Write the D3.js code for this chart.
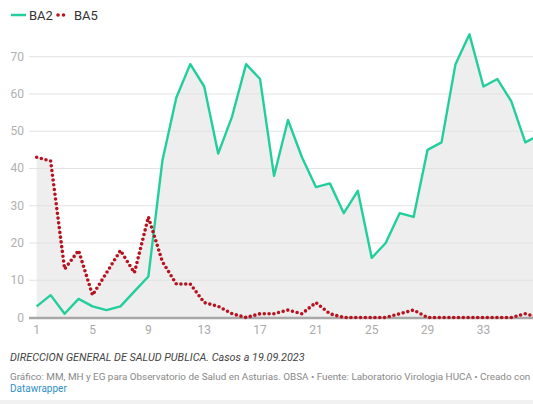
<!DOCTYPE html>
<html>
<head>
<meta charset="utf-8">
<script src="https://cdn.jsdelivr.net/npm/d3@7"></script>
<style>
  body { margin: 0; background: #fff; }
  svg { display: block; font-family: Roboto, "Noto Sans", sans-serif; }
</style>
</head>
<body>
<svg id="canvas" width="533" height="404"></svg>
<script>
// weeks (semana epidemiologica) and cases per variant
const weeks = d3.range(1, 38);
const ba2 = [3, 6, 1, 5, 3, 2, 3, 7, 11, 42, 59, 68, 62, 44, 54, 68, 64, 38, 53, 43,
             35, 36, 28, 34, 16, 20, 28, 27, 45, 47, 68, 76, 62, 64, 58, 47, 49];
const ba5 = [43, 42, 13, 18, 6, 12, 18, 12, 27, 15, 9, 9, 4, 3, 1, 0, 1, 1, 2, 1,
             4, 1, 0, 0, 0, 0, 1, 2, 0, 0, 0, 0, 0, 0, 0, 1, 0];
const yTicks = [0, 10, 20, 30, 40, 50, 60, 70];
const xTicks = [1, 5, 9, 13, 17, 21, 25, 29, 33];
const seriesNames = ['BA2', 'BA5'];

const green = '#22cf9c';
const red = '#b8121e';

const canvas = d3.select('#canvas');
canvas.append('rect').attr('width', 533).attr('height', 404).attr('fill', '#fff');

const xScale = d3.scaleLinear()
    .domain([1, 36])
    .range([36.7, 525.3]);
const yScale = d3.scaleLinear()
    .domain([0, 70])
    .range([317.5, 56.7]);

const ba2Data = weeks.map((w, i) => ({ week: w, value: ba2[i] }));
const ba5Data = weeks.map((w, i) => ({ week: w, value: ba5[i] }));

const area = d3.area()
    .x(d => xScale(d.week))
    .y0(yScale(0))
    .y1(d => yScale(d.value));
const line = d3.line()
    .x(d => xScale(d.week))
    .y(d => yScale(d.value));

// grey areas below both lines
const agroup = canvas.append('g').attr('id', 'agroup');
agroup.selectAll('path')
    .data([ba2Data, ba5Data])
    .enter().append('path')
    .attr('d', area)
    .attr('fill', '#eeeeee');

// grid + y labels
const ggroup = canvas.append('g').attr('id', 'ggroup');
ggroup.selectAll('line')
    .data(yTicks.filter(t => t > 0))
    .enter().append('line')
    .attr('x1', 29)
    .attr('x2', 533)
    .attr('y1', d => yScale(d))
    .attr('y2', d => yScale(d))
    .attr('stroke', '#e2e2e2')
    .attr('stroke-width', 1);

ggroup.selectAll('text')
    .data(yTicks)
    .enter().append('text')
    .attr('x', 24)
    .attr('y', d => yScale(d))
    .attr('text-anchor', 'end')
    .attr('dominant-baseline', 'central')
    .attr('font-size', 12)
    .attr('fill', '#b0b0b0')
    .text(d => d);

// baseline
canvas.append('line')
    .attr('x1', 29)
    .attr('x2', 533)
    .attr('y1', yScale(0) + 0.5)
    .attr('y2', yScale(0) + 0.5)
    .attr('stroke', '#a8a8a8')
    .attr('stroke-width', 2.5);

// x labels
canvas.append('g').selectAll('text')
    .data(xTicks)
    .enter().append('text')
    .attr('x', d => xScale(d))
    .attr('y', 330)
    .attr('text-anchor', 'middle')
    .attr('dominant-baseline', 'central')
    .attr('font-size', 12)
    .attr('fill', '#aaaaaa')
    .text(d => d);

// lines
canvas.append('path')
    .datum(ba2Data)
    .attr('d', line)
    .attr('fill', 'none')
    .attr('stroke', green)
    .attr('stroke-width', 2.4)
    .attr('stroke-linejoin', 'round');

canvas.append('path')
    .datum(ba5Data)
    .attr('d', line)
    .attr('fill', 'none')
    .attr('stroke', red)
    .attr('stroke-width', 3.6)
    .attr('stroke-linecap', 'round')
    .attr('stroke-dasharray', '0,4.8');

// legend
const legend = canvas.append('g').attr('id', 'legend');
legend.append('line')
    .attr('x1', 11).attr('x2', 26)
    .attr('y1', 15).attr('y2', 15)
    .attr('stroke', green)
    .attr('stroke-width', 2.5);
legend.selectAll('circle')
    .data([58, 63.5])
    .enter().append('circle')
    .attr('cx', d => d)
    .attr('cy', 15)
    .attr('r', 1.8)
    .attr('fill', red);
legend.selectAll('text')
    .data(seriesNames)
    .enter().append('text')
    .attr('x', (d, i) => i === 0 ? 29 : 74)
    .attr('y', 15)
    .attr('dominant-baseline', 'central')
    .attr('font-size', 13)
    .attr('fill', '#333')
    .text(d => d);

// footer
canvas.append('text')
    .attr('x', 10)
    .attr('y', 361)
    .attr('font-size', 10.8)
    .attr('font-style', 'italic')
    .attr('fill', '#444')
    .text('DIRECCION GENERAL DE SALUD PUBLICA. Casos a 19.09.2023');

const credit = canvas.append('text')
    .attr('x', 10)
    .attr('y', 380)
    .attr('font-size', 10)
    .attr('fill', '#888')
    .text('Gráfico: MM, MH y EG para Observatorio de Salud en Asturias. OBSA • Fuente: Laboratorio Virologia HUCA • Creado con');
// shrink a bit so the credit line fits the width
const w = credit.node().getComputedTextLength();
if (w > 521) credit.attr('font-size', 10 * 521 / w);

canvas.append('text')
    .attr('x', 10)
    .attr('y', 392)
    .attr('font-size', 10)
    .attr('fill', '#2f8fc6')
    .text('Datawrapper');

canvas.append('rect')
    .attr('x', 0)
    .attr('y', 400)
    .attr('width', 533)
    .attr('height', 4)
    .attr('fill', '#f1f1f1');
</script>
</body>
</html>
